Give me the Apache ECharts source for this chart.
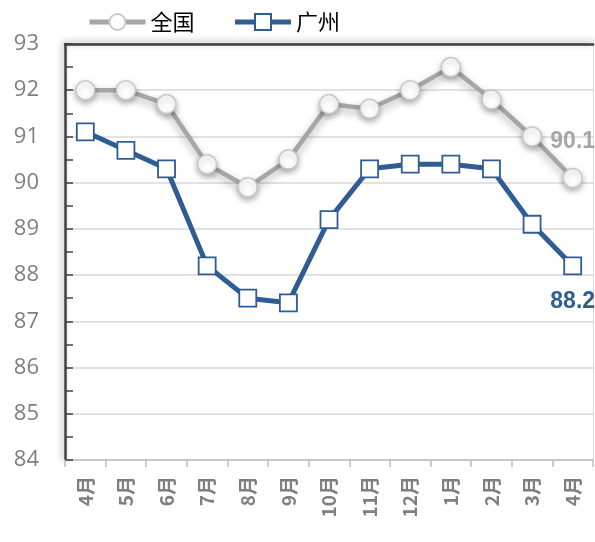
<!DOCTYPE html>
<html>
<head>
<meta charset="utf-8">
<script src="https://cdn.jsdelivr.net/npm/echarts@6/dist/echarts.min.js"></script>
<style>
  html, body { margin: 0; padding: 0; background: #fff; }
  #chart { width: 595px; height: 542px; }
</style>
</head>
<body>
<div id="chart"></div>
<script>
// 月份
const months = ['4月', '5月', '6月', '7月', '8月', '9月', '10月', '11月', '12月', '1月', '2月', '3月', '4月']
// 全国
const national = [92.0, 92.0, 91.7, 90.4, 89.9, 90.5, 91.7, 91.6, 92.0, 92.5, 91.8, 91.0, 90.1]
// 广州
const guangzhou = [91.1, 90.7, 90.3, 88.2, 87.5, 87.4, 89.2, 90.3, 90.4, 90.4, 90.3, 89.1, 88.2]

const grayColor = '#a6a6a6'
const blueColor = '#2f5d93'

let myChart = echarts.init(document.getElementById('chart'))

// 只在最后一个点显示数值
function lastLabel (arr, pos, color) {
  return arr.map((v, i) => i === arr.length - 1
    ? { value: v, label: { show: true, position: pos, distance: 15, color: color, fontSize: 23, fontWeight: 'bold', fontFamily: 'Liberation Sans' } }
    : v)
}

myChart.setOption({
  animation: false,
  legend: {
    top: 6,
    left: 82,
    itemWidth: 56,
    itemHeight: 20,
    itemGap: 38,
    lineStyle: { width: 5 },
    textStyle: { fontSize: 22, color: '#000', fontFamily: 'Noto Sans CJK SC' },
    data: ['全国', '广州']
  },
  grid: {
    left: 65,
    right: 2,
    top: 44,
    bottom: 82
  },
  xAxis: [{
    type: 'category',
    data: months,
    boundaryGap: true,
    axisLine: { lineStyle: { color: '#bfbfbf', width: 1.5 } },
    axisTick: { show: true, length: 7, lineStyle: { color: '#bfbfbf', width: 1.5 } },
    axisLabel: {
      rotate: 90,
      margin: 16,
      color: '#7f7f7f',
      fontSize: 19,
      fontWeight: 'bold',
      fontFamily: 'Noto Sans CJK SC',
      interval: 0
    }
  }, {
    // 顶部边框
    type: 'category',
    position: 'top',
    data: months,
    axisLine: { lineStyle: { color: '#404040', width: 2.5, shadowColor: 'rgba(0,0,0,0.35)', shadowBlur: 6, shadowOffsetY: -2 } },
    axisTick: { show: false },
    axisLabel: { show: false }
  }],
  yAxis: [{
    type: 'value',
    min: 84,
    max: 93,
    interval: 1,
    axisLine: { show: true, lineStyle: { color: '#404040', width: 2.5, shadowColor: 'rgba(0,0,0,0.35)', shadowBlur: 6, shadowOffsetX: -2 } },
    axisTick: { show: true, inside: true, length: 8, lineStyle: { color: '#404040', width: 1.5 } },
    minorTick: { show: true, splitNumber: 2, length: 8, lineStyle: { color: '#404040', width: 1.5 } },
    splitLine: { lineStyle: { color: '#d9d9d9', width: 1.5 } },
    axisLabel: {
      margin: 26,
      color: '#7f7f7f',
      fontSize: 22,
      fontFamily: 'Open Sans'
    }
  }, {
    // 右侧边框
    type: 'value',
    position: 'right',
    min: 84,
    max: 93,
    interval: 1,
    axisLine: { show: true, lineStyle: { color: '#d9d9d9', width: 1 } },
    axisTick: { show: false },
    axisLabel: { show: false },
    splitLine: { show: false }
  }],
  series: [
    {
      name: '全国',
      type: 'line',
      data: lastLabel(national, 'top', grayColor),
      symbol: 'circle',
      symbolSize: 19,
      z: 3,
      lineStyle: { color: grayColor, width: 4.5, shadowColor: 'rgba(0,0,0,0.3)', shadowBlur: 8, shadowOffsetY: 4 },
      itemStyle: { color: '#ffffff', borderColor: '#c8c8c8', borderWidth: 1.5, shadowColor: 'rgba(0,0,0,0.3)', shadowBlur: 6, shadowOffsetY: 3 }
    },
    {
      name: '广州',
      type: 'line',
      data: lastLabel(guangzhou, 'bottom', blueColor),
      symbol: 'rect',
      symbolSize: 17,
      z: 4,
      lineStyle: { color: blueColor, width: 5 },
      itemStyle: { color: '#ffffff', borderColor: blueColor, borderWidth: 1.8 }
    }
  ]
})
</script>
</body>
</html>
